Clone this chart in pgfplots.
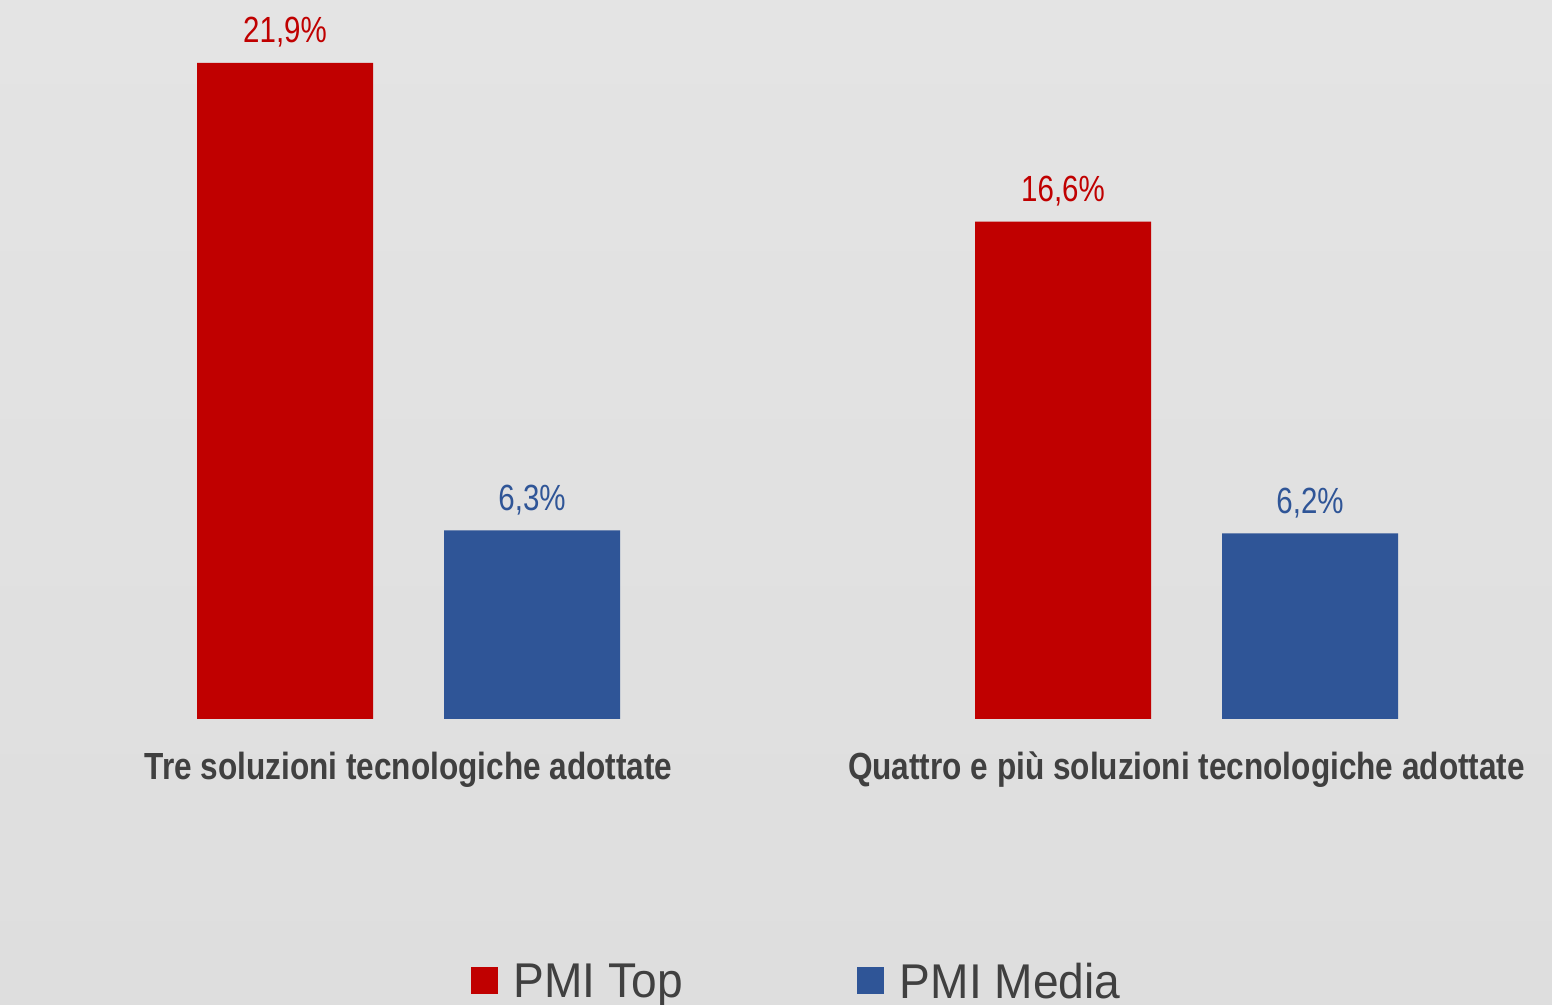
\documentclass[border=0pt]{standalone}
\usepackage{pgfplots}
\pgfplotsset{compat=1.18}
\usepackage{fontspec}
\setmainfont{Liberation Sans}
\newfontfamily\catfont[FakeStretch=0.835]{Liberation Sans}
\newfontfamily\valfont[FakeStretch=0.81]{Liberation Sans}
\newfontfamily\legfont[FakeStretch=0.945]{Liberation Sans}
\definecolor{topred}{HTML}{C00000}
\definecolor{medblue}{HTML}{2F5597}
\definecolor{txtgray}{HTML}{404040}
\definecolor{bgtop}{HTML}{E4E4E4}
\definecolor{bgbot}{HTML}{DEDEDE}
\begin{document}
\begin{tikzpicture}
\useasboundingbox (0,0) rectangle (776pt,502.5pt);
\clip (0,0) rectangle (776pt,502.5pt);
\shade[top color=bgtop, bottom color=bgbot] (0,0) rectangle (776pt,502.5pt);
\begin{axis}[
  at={(10pt,143pt)}, anchor=south west,
  width=766pt, height=359.5pt, scale only axis,
  xmin=-0.4994, xmax=1.4698, ymin=0, ymax=24,
  ybar, bar width=88pt,
  axis x line*=bottom, axis y line=none,
  x axis line style={draw=black!12, line width=0.8pt, -},
  xtick={0,1}, major tick length=0pt,
  xticklabels={Tre soluzioni tecnologiche adottate, Quattro e più soluzioni tecnologiche adottate},
  xticklabel style={font=\catfont\bfseries\fontsize{18.9}{20}\selectfont, text=txtgray, anchor=base, yshift=-30.5pt},
  /pgf/number format/assume math mode=true,
  nodes near coords={\pgfmathprintnumber[fixed,fixed zerofill,precision=1,use comma]{\pgfplotspointmeta}\%},
  every node near coord/.append style={font=\valfont\fontsize{18.2}{20}\selectfont, anchor=base, yshift=10pt},
  legend columns=2,
  legend style={draw=none, fill=none, at={(0.5075,-0.366)}, anchor=center,
    font=\legfont\fontsize{24.4}{26}\selectfont, text=txtgray,
    /tikz/every even column/.append style={column sep=85pt},
    /tikz/every odd column/.append style={column sep=6pt}},
]
\addplot[fill=topred, draw=none, bar shift=-61.75pt, text=topred,
  legend image code/.code={\fill[topred] (0pt,-6pt) rectangle (13.5pt,7.5pt);}]
  coordinates {(0,21.9) (1,16.6)};
\addlegendentry{PMI Top}
\addplot[fill=medblue, draw=none, bar shift=61.75pt, text=medblue,
  legend image code/.code={\fill[medblue] (0pt,-6pt) rectangle (13.5pt,7.5pt);}]
  coordinates {(0,6.3) (1,6.2)};
\addlegendentry{PMI Media}
\end{axis}
\end{tikzpicture}
\end{document}
